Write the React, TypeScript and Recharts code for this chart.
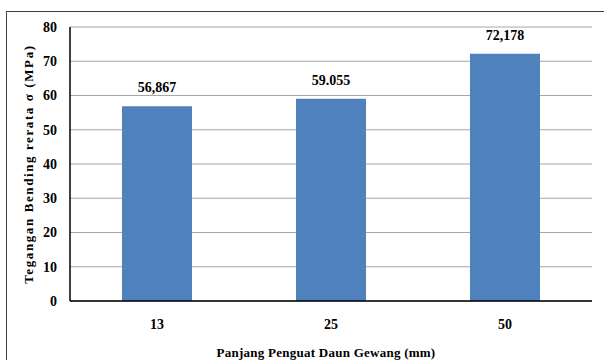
import { BarChart, Bar, XAxis, YAxis, CartesianGrid, LabelList } from 'recharts';

const categories = ['13', '25', '50'];
const stressValues = [56.867, 59.055, 72.178];
const valueLabels = ['56,867', '59.055', '72,178'];
const yTicks = [0, 10, 20, 30, 40, 50, 60, 70, 80];

const chartData = categories.map((c, i) => ({
  length: c,
  stress: stressValues[i],
  label: valueLabels[i],
}));

const font = 'Liberation Serif';

export default function App() {
  return (
    <div
      style={{
        position: 'fixed',
        left: 0,
        top: 0,
        width: 604,
        height: 360,
        overflow: 'hidden',
        background: '#fff',
        fontFamily: font,
      }}
    >
      {/* outer chart frame, cut off on the right and bottom */}
      <div
        style={{
          position: 'absolute',
          left: 6,
          top: 11,
          width: 640,
          height: 400,
          border: '1px solid #404040',
        }}
      />
      <div style={{ position: 'absolute', left: 0, top: 0 }}>
        <BarChart
          width={604}
          height={360}
          data={chartData}
          margin={{ top: 27, right: 12, left: 10, bottom: 0 }}
          barSize={70}
          style={{ fontFamily: font }}
        >
          <CartesianGrid vertical={false} stroke="#a6a6a6" strokeWidth={1} />
          <XAxis
            dataKey="length"
            height={59}
            axisLine={{ stroke: '#000', strokeWidth: 1.5 }}
            tickLine={false}
            tickSize={0}
            tickMargin={18}
            tick={{ fill: '#000', fontSize: 14, fontWeight: 'bold', fontFamily: font }}
            label={{
              value: 'Panjang Penguat Daun Gewang (mm)',
              position: 'insideBottom',
              offset: 3,
              dx: -5,
              style: {
                fill: '#000',
                fontSize: 13,
                fontWeight: 'bold',
                fontFamily: font,
                letterSpacing: 0.25,
              },
            }}
          />
          <YAxis
            domain={[0, 80]}
            ticks={yTicks}
            width={60}
            axisLine={{ stroke: '#000', strokeWidth: 1.5 }}
            tickLine={false}
            tickSize={0}
            tickMargin={13}
            tick={{ fill: '#000', fontSize: 14, fontWeight: 'bold', fontFamily: font }}
            label={{
              value: 'Tegangan Bending rerata σ (MPa)',
              angle: -90,
              position: 'insideLeft',
              offset: 18,
              style: {
                textAnchor: 'middle',
                fill: '#000',
                fontSize: 13,
                fontWeight: 'bold',
                fontFamily: font,
                letterSpacing: 1.6,
              },
            }}
          />
          <YAxis
            yAxisId="frame"
            orientation="right"
            width={0}
            tick={false}
            tickLine={false}
            axisLine={{ stroke: '#000', strokeWidth: 1.5 }}
          />
          <Bar dataKey="stress" fill="#4f81bd" isAnimationActive={false}>
            <LabelList
              dataKey="label"
              position="top"
              offset={14}
              style={{ fill: '#000', fontSize: 14, fontWeight: 'bold', fontFamily: font }}
            />
          </Bar>
        </BarChart>
      </div>
    </div>
  );
}
